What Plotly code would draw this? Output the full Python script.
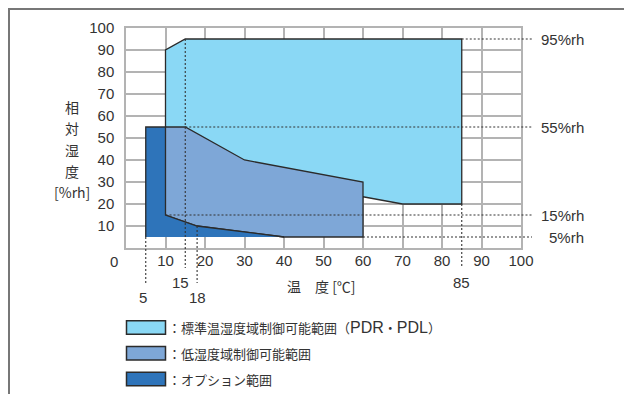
import plotly.graph_objects as go

# control ranges (temperature degC, humidity %rh)
std_temp = [10, 10, 15, 85, 85, 70, 60, 10]
std_hum = [15, 90, 95, 95, 20, 20, 23.3, 15]

low_temp = [10, 15, 30, 60, 60, 40, 18, 10]
low_hum = [55, 55, 40, 30, 5, 5, 10, 15]

opt_temp = [5, 5, 10, 10, 18, 40]
opt_hum = [5, 55, 55, 15, 10, 5]

LATSPAN = "<span style='font-family:Liberation Sans, Arial;font-size:16px'>%s</span>"
legend_names = ["：標準温湿度域制御可能範囲（" + LATSPAN % "PDR" + "・" + LATSPAN % "PDL" + "）",
                "：低湿度域制御可能範囲", "：オプション範囲"]
colors = ["#8ad8f5", "#7ea7d7", "#2e74ba"]

tick_vals = [10, 20, 30, 40, 50, 60, 70, 80, 90, 100]

# guide lines
vguide_x = [5, 15, 18, 85]
vguide_from = [5, 95, 10, 20]
hguide_y = [95, 55, 15, 5]
hguide_from = [85, 15, 10, 60]
hguide_labels = ["95%rh", "55%rh", "15%rh", "5%rh"]

X_RANGE = [0, 100]
Y_RANGE = [0, 100]
OFF = 8  # page body margin
W, H = 632 - OFF, 394 - OFF
L, R, T, B = 126 - OFF, 111, 28 - OFF, 146
TXT = "#333333"
JP = "Noto Sans CJK JP"
LAT = "Liberation Sans, Arial"


def xp(v):
    return (v - X_RANGE[0]) / (X_RANGE[1] - X_RANGE[0])


def yp(v):
    return (v - Y_RANGE[0]) / (Y_RANGE[1] - Y_RANGE[0])


# screen pixel -> paper helpers for decoration
def px(p):
    return (p - OFF - L) / (W - L - R)


def py(p):
    return (H - B - (p - OFF)) / (H - T - B)


def note(x, y, text, size=15, family=LAT, xanchor="center", xref="paper", yref="paper"):
    fig.add_annotation(x=x, y=y, xref=xref, yref=yref, text=text, showarrow=False,
                       xanchor=xanchor, yanchor="middle",
                       font=dict(family=family, size=size, color=TXT))


fig = go.Figure()

for tx, hy, c in [(std_temp, std_hum, colors[0]), (low_temp, low_hum, colors[1]), (opt_temp, opt_hum, colors[2])]:
    fig.add_trace(go.Scatter(x=tx, y=hy, fill="toself", fillcolor=c, mode="lines",
                             line=dict(color="#2b2b2b", width=1.3), hoverinfo="skip", showlegend=False))

dot = dict(color="#333333", width=1.1, dash="2px,2px")
vbottoms = [285, 268, 283, 268]
for x, top, bot in zip(vguide_x, vguide_from, vbottoms):
    fig.add_shape(type="line", xref="x", yref="paper", x0=x, x1=x, y0=yp(top), y1=py(bot), line=dot)
for y, start in zip(hguide_y, hguide_from):
    fig.add_shape(type="line", xref="paper", yref="y", x0=xp(start), x1=px(532), y0=y, y1=y, line=dot)

# labels under the vertical guides
vlab_x = [4.3, 13.7, 18, 85]
vlab_y = [297, 282, 297, 282]
for x, lx, ly in zip(vguide_x, vlab_x, vlab_y):
    note(lx, py(ly), str(x), xref="x")
for y, lab in zip(hguide_y, hguide_labels):
    note(px(586), y, lab, xanchor="right", yref="y")

# corner zero
note(px(114), py(261), "0")

# y title (vertical stack)
ytitle = ["相", "対", "湿", "度", "[%rh]"]
ytitle_y = [107, 128, 149.5, 170.5, 191.5]
for t, yy in zip(ytitle, ytitle_y):
    note(px(72), py(yy), t, size=14, family=JP)

note(px(321), py(286), "温　度 [℃]", size=14, family=JP)

# legend boxes
rows = [327.5, 353.3, 379]
for c, name, ry in zip(colors, legend_names, rows):
    fig.add_shape(type="rect", xref="paper", yref="paper", x0=px(126.5), x1=px(165.5),
                  y0=py(ry - 6.7), y1=py(ry + 6.7), fillcolor=c, line=dict(color="#2b2b2b", width=1.5))
    note(px(166), py(ry), name, size=13, family=JP, xanchor="left")

# outer frame (top and left edges visible)
fig.add_shape(type="rect", xref="paper", yref="paper", x0=px(9), x1=px(700), y0=py(9), y1=py(450),
              line=dict(color="#777777", width=2), layer="below")

fig.update_layout(
    width=W, height=H, autosize=False,
    margin=dict(l=L, r=R, t=T, b=B),
    paper_bgcolor="white", plot_bgcolor="white",
    showlegend=False,
    font=dict(family=LAT, size=15, color=TXT),
    xaxis=dict(range=X_RANGE, tickvals=tick_vals, showgrid=True, gridcolor="#b3b3b3", gridwidth=1.5,
               zeroline=False, showline=True, mirror=True, linecolor="#b3b3b3", linewidth=1.5,
               ticks="", ticklabelstandoff=-2, tickfont=dict(family=LAT, size=15, color=TXT)),
    yaxis=dict(range=Y_RANGE, tickvals=tick_vals, showgrid=True, gridcolor="#b3b3b3", gridwidth=1.5,
               zeroline=False, showline=True, mirror=True, linecolor="#b3b3b3", linewidth=1.5,
               ticks="", ticklabelstandoff=7, tickfont=dict(family=LAT, size=15, color=TXT)),
)

fig.write_html("out.html")
